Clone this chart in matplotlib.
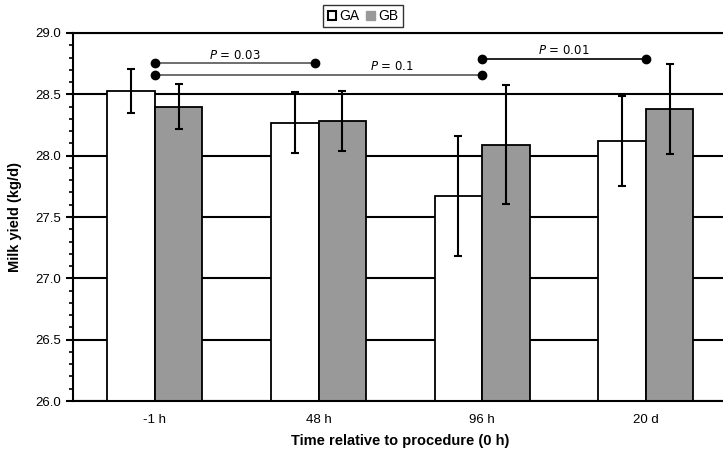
import matplotlib.pyplot as plt
import numpy as np
from matplotlib.ticker import MultipleLocator
from matplotlib.patches import Patch

plt.rcParams['font.family'] = ['Liberation Sans', 'DejaVu Sans']

# data
categories = ['-1 h', '48 h', '96 h', '20 d']
ga_mean = [28.53, 28.27, 27.67, 28.12]
ga_err = [0.18, 0.245, 0.49, 0.37]
gb_mean = [28.40, 28.28, 28.09, 28.38]
gb_err = [0.185, 0.245, 0.485, 0.365]

# significance brackets: (start, end, y, label, label x, colour)
brackets = [
    (0, 0.98, 28.753, '0.03', 0.49, '#555555'),
    (0, 2, 28.66, '0.1', 1.45, '#555555'),
    (2, 3, 28.79, '0.01', 2.5, 'black'),
]

fig = plt.figure(figsize=(7.23, 4.57), dpi=100)
ax = fig.add_axes([0.101, 0.1225, 0.9055, 0.8053])

x = np.arange(len(categories))
w = 0.29

ax.bar(x - w / 2, ga_mean, w, color='white', edgecolor='black',
       linewidth=1.3, zorder=2)
ax.bar(x + w / 2, gb_mean, w, color='#999999', edgecolor='black',
       linewidth=1.3, zorder=2)
ax.errorbar(x - w / 2, ga_mean, yerr=ga_err, fmt='none', ecolor='black',
            elinewidth=1.5, capsize=3, capthick=1.5, zorder=3)
ax.errorbar(x + w / 2, gb_mean, yerr=gb_err, fmt='none', ecolor='black',
            elinewidth=1.5, capsize=3, capthick=1.5, zorder=3)

for x0, x1, y, p, tx, c in brackets:
    ax.plot([x0, x1], [y, y], color=c, lw=1.2, zorder=4)
    ax.plot([x0, x1], [y, y], 'o', color='black', ms=6, zorder=5)
    ax.text(tx, y + 0.012, r'$\it{P}$ = ' + p, ha='center',
            va='bottom', fontsize=8.5, family=['DejaVu Sans'])

ax.set_ylim(26.0, 29.0)
ax.set_xlim(-0.5, 3.5)
ax.yaxis.set_major_locator(MultipleLocator(0.5))
ax.yaxis.set_minor_locator(MultipleLocator(0.1))
ax.yaxis.set_major_formatter(plt.FormatStrFormatter('%.1f'))
ax.grid(axis='y', color='black', lw=1.5, zorder=0)
ax.set_axisbelow(True)

ax.set_xticks(x)
ax.set_xticklabels(categories)
ax.tick_params(axis='x', length=0, pad=9, labelsize=9.5)
ax.tick_params(axis='y', which='major', length=5, width=1.5, labelsize=9.5)
ax.tick_params(axis='y', which='minor', length=3, width=1.2)

ax.spines['right'].set_visible(False)
for s in ['left', 'bottom', 'top']:
    ax.spines[s].set_linewidth(1.5)

ax.set_ylabel('Milk yield (kg/d)', fontweight='bold', fontsize=10.5, labelpad=10)
ax.set_xlabel('Time relative to procedure (0 h)', fontweight='bold',
              fontsize=10.5, labelpad=6)

handles = [Patch(facecolor='white', edgecolor='black', lw=1.5, label='GA'),
           Patch(facecolor='#999999', edgecolor='#999999', label='GB')]
leg = fig.legend(handles=handles, loc='center', bbox_to_anchor=(0.502, 0.965),
                 ncol=2, frameon=True, fancybox=False, edgecolor='black',
                 fontsize=10, handlelength=0.6, handleheight=0.6,
                 handletextpad=0.25, columnspacing=0.5, borderpad=0.3,
                 borderaxespad=0)
leg.get_frame().set_linewidth(1.0)

fig.savefig('out.png', dpi=100)
